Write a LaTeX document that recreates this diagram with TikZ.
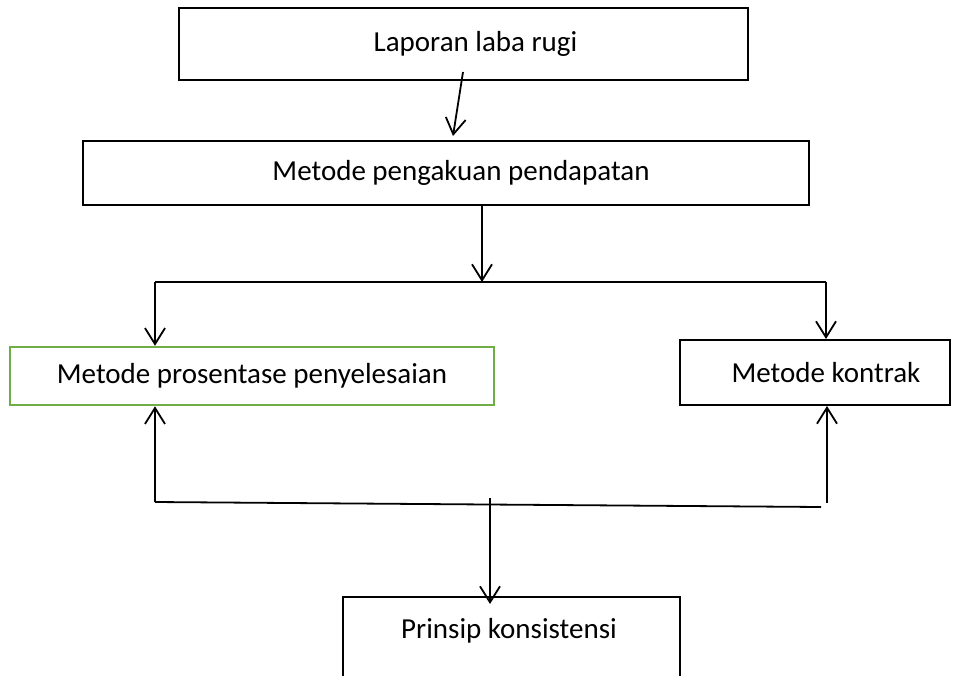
\documentclass[tikz,border=0pt]{standalone}
\usepackage{fontspec}
\setmainfont{Carlito}
\usetikzlibrary{arrows.meta}
\definecolor{boxgreen}{HTML}{70AD47}
\tikzset{
  box/.style={draw=black, line width=2pt, fill=white, rectangle, inner sep=0pt,
    font=\fontsize{29}{34}\selectfont},
  greenbox/.style={box, draw=boxgreen, line width=2.5pt},
  conn/.style={line width=1.8pt, draw=black},
  arr/.style={conn, -{Straight Barb[length=16pt,width=20pt,line width=1.8pt]}}
}
\begin{document}
\begin{tikzpicture}[x=1pt,y=-1pt]
\clip (0,0) rectangle (961,675);
\fill[white] (0,0) rectangle (961,675);
% boxes
\node[box, minimum width=569pt, minimum height=72pt] (lap) at (463.5,44) {\hspace*{24pt}Laporan laba rugi};
\node[box, minimum width=726pt, minimum height=64pt] (met) at (446,173) {\hspace*{30pt}Metode pengakuan pendapatan};
\node[greenbox, minimum width=484pt, minimum height=58pt] (pros) at (252,376) {Metode prosentase penyelesaian};
\node[box, minimum width=270pt, minimum height=65pt] (kon) at (815,372.5) {\hspace*{22pt}Metode kontrak};
\node[box, minimum width=337pt, minimum height=110pt, anchor=north] (prin) at (511.5,596) {};
\node[font=\fontsize{29}{34}\selectfont] (printxt) at (509,631) {Prinsip konsistensi};
% coordinates
\coordinate (a1s) at (463,72);
\coordinate (a1e) at (453,136);
\coordinate (a2s) at (482,205);
\coordinate (a2e) at (482,282);
\coordinate (hl) at (155,282);
\coordinate (hr) at (826,282);
\coordinate (bl) at (155,502);
\coordinate (br) at (821,507);
\coordinate (rs) at (827,503);
\coordinate (ms) at (490,498);
% top connectors
\draw[arr] (a1s) -- (a1e);
\draw[arr] (a2s) -- (a2e);
\draw[conn] (hl) -- (hr);
\draw[arr] (hl) -- (pros.north -| hl);
\draw[arr] (hr) -- (kon.north -| hr);
% bottom connectors
\draw[conn] (bl) -- (br);
\draw[arr] (bl) -- (pros.south -| bl);
\draw[arr] (rs) -- (kon.south -| rs);
\draw[arr] (ms) -- ([yshift=-8pt]prin.north -| ms);
\end{tikzpicture}
\end{document}
